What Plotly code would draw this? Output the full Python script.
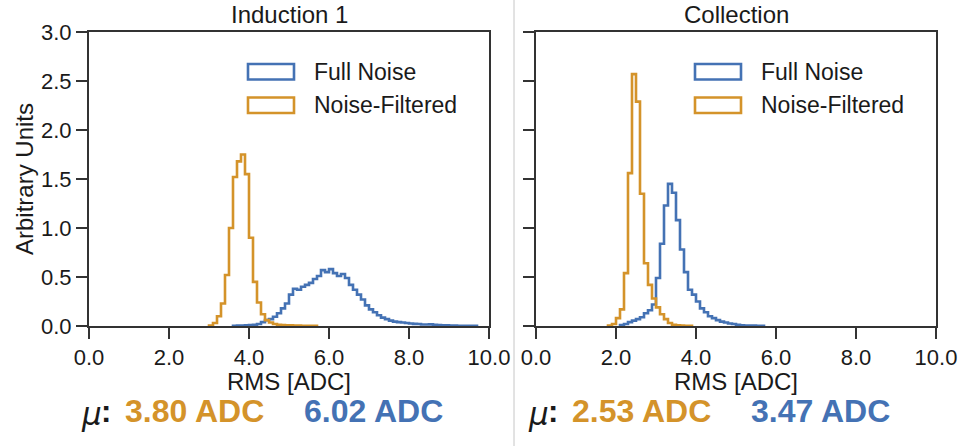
import numpy as np
import plotly.graph_objects as go

# ---- histogram data (density, bin width 0.1 ADC) ----
BIN_WIDTH = 0.1
PANELS = ["Induction 1", "Collection"]
SERIES = ["Full Noise", "Noise-Filtered"]
COLORS = {"Full Noise": "#4472B4", "Noise-Filtered": "#D4932A"}

# Induction 1
ind_full_start = 3.6
ind_full = [0.003, 0.004, 0.005, 0.007, 0.01, 0.013, 0.02, 0.04, 0.06, 0.07,
            0.095, 0.13, 0.18, 0.23, 0.32, 0.38, 0.37, 0.40, 0.42, 0.44,
            0.48, 0.51, 0.57, 0.55, 0.58, 0.54, 0.51, 0.53, 0.49, 0.42,
            0.37, 0.32, 0.27, 0.21, 0.17, 0.14, 0.11, 0.085, 0.07, 0.055,
            0.045, 0.04, 0.035, 0.03, 0.025, 0.022, 0.02, 0.016, 0.015, 0.017,
            0.012, 0.01, 0.008, 0.006, 0.005, 0.004, 0.003, 0.003, 0.002, 0.002,
            0.001]
ind_filt_start = 3.0
ind_filt = [0.005, 0.03, 0.10, 0.23, 0.52, 1.00, 1.52, 1.68, 1.75, 1.55,
            0.90, 0.45, 0.24, 0.12, 0.06, 0.035, 0.02, 0.012, 0.01, 0.008,
            0.006, 0.005, 0.004, 0.003, 0.003, 0.002, 0.002]

# Collection
col_full_start = 2.1
col_full = [0.01, 0.02, 0.04, 0.055, 0.07, 0.09, 0.13, 0.16, 0.22, 0.49,
            0.84, 1.23, 1.45, 1.36, 1.08, 0.78, 0.55, 0.37, 0.32, 0.25,
            0.18, 0.14, 0.10, 0.08, 0.06, 0.045, 0.035, 0.025, 0.02, 0.012,
            0.008, 0.005, 0.005, 0.005, 0.003, 0.002]
col_filt_start = 1.8
col_filt = [0.005, 0.02, 0.08, 0.17, 0.54, 1.56, 2.57, 2.29, 1.35, 0.64,
            0.42, 0.28, 0.19, 0.12, 0.07, 0.03, 0.012, 0.008, 0.005, 0.003,
            0.002]

# mean RMS per panel: [Noise-Filtered, Full Noise]
ind_means = [3.80, 6.02]
col_means = [2.53, 3.47]

x_ticks = [0.0, 2.0, 4.0, 6.0, 8.0, 10.0]
y_ticks = [0.0, 0.5, 1.0, 1.5, 2.0, 2.5, 3.0]

W, H = 959, 446
FONT = "Liberation Sans, Arial, sans-serif"
INK = "#1a1a1a"
SPINE = "#333333"


def px(x):
    return x / W


def py(y):
    return 1 - y / H


def step_trace(start, values, name, xa, ya):
    edges = start + BIN_WIDTH * np.arange(len(values) + 1)
    xs = [edges[0]] + list(edges)
    ys = [0.0] + list(values) + [0.0]
    return go.Scatter(x=xs, y=ys, mode="lines", line_shape="hv",
                      line=dict(color=COLORS[name], width=2.6),
                      name=name, showlegend=False, xaxis=xa, yaxis=ya,
                      hoverinfo="skip")


fig = go.Figure()
fig.add_trace(step_trace(ind_full_start, ind_full, "Full Noise", "x", "y"))
fig.add_trace(step_trace(ind_filt_start, ind_filt, "Noise-Filtered", "x", "y"))
fig.add_trace(step_trace(col_full_start, col_full, "Full Noise", "x2", "y2"))
fig.add_trace(step_trace(col_filt_start, col_filt, "Noise-Filtered", "x2", "y2"))

plot_left = [89, 536]
plot_w = 400
top, bottom = 32, 326

axis_common = dict(showline=True, linewidth=2, linecolor=SPINE, mirror=True,
                   ticks="outside", ticklen=11, tickwidth=2, tickcolor=SPINE,
                   showgrid=False, zeroline=False, automargin=False,
                   tickfont=dict(family=FONT, size=22, color=INK))

ydom = [1 - bottom / H, 1 - top / H]
fig.update_layout(
    template="none",
    width=W, height=H,
    margin=dict(l=0, r=0, t=0, b=0, pad=0),
    paper_bgcolor="white", plot_bgcolor="white",
    showlegend=False,
    xaxis=dict(domain=[px(plot_left[0]), px(plot_left[0] + plot_w)], anchor="y",
               range=[0, 10], tickvals=x_ticks,
               ticktext=[f"{v:.1f}" for v in x_ticks], **axis_common),
    yaxis=dict(domain=ydom, anchor="x", range=[0, 3], tickvals=y_ticks,
               ticktext=[f"{v:.1f}" for v in y_ticks], **axis_common),
    xaxis2=dict(domain=[px(plot_left[1]), px(plot_left[1] + plot_w)], anchor="y2",
                range=[0, 10], tickvals=x_ticks,
                ticktext=[f"{v:.1f}" for v in x_ticks], **axis_common),
    yaxis2=dict(domain=ydom, anchor="x2", range=[0, 3], tickvals=y_ticks,
                showticklabels=False, **axis_common),
)

shapes = []
annotations = []

# light divider between the two panels
shapes.append(dict(type="line", xref="paper", yref="paper",
                   x0=px(514), x1=px(514), y0=0, y1=1,
                   line=dict(color="#c6c6c6", width=1)))

means = [ind_means, col_means]
for i, title in enumerate(PANELS):
    xl = plot_left[i]
    xc = xl + plot_w / 2
    xd = "x domain" if i == 0 else "x2 domain"
    yd = "y domain" if i == 0 else "y2 domain"

    annotations.append(dict(text=title, xref="paper", yref="paper",
                            x=px(xc), y=py(15), xanchor="center", yanchor="middle",
                            showarrow=False, font=dict(family=FONT, size=24, color=INK)))
    annotations.append(dict(text="RMS [ADC]", xref="paper", yref="paper",
                            x=px(xc), y=py(381), xanchor="center", yanchor="middle",
                            showarrow=False, font=dict(family=FONT, size=24, color=INK)))

    # legend: outlined boxes with labels
    for r, name in enumerate(SERIES):
        y_top = 64 + r * 33.5
        y_bot = y_top + 15.5
        shapes.append(dict(type="rect", xref=xd, yref=yd,
                           x0=(248 - 89) / plot_w, x1=(294 - 89) / plot_w,
                           y0=(bottom - y_bot) / (bottom - top),
                           y1=(bottom - y_top) / (bottom - top),
                           line=dict(color=COLORS[name], width=2.6),
                           fillcolor="rgba(0,0,0,0)"))
        annotations.append(dict(text=name, xref=xd, yref=yd,
                                x=(312 - 89) / plot_w,
                                y=(bottom - (y_top + y_bot) / 2) / (bottom - top),
                                xanchor="left", yanchor="middle", showarrow=False,
                                font=dict(family=FONT, size=23, color=INK)))

    # mean summary line under each panel
    mx = xl - 10
    annotations.append(dict(text="μ", xref="paper", yref="paper",
                            x=px(mx), y=py(414), xanchor="left", yanchor="middle",
                            showarrow=False,
                            font=dict(family="DejaVu Sans", size=31, color=INK,
                                      style="italic")))
    annotations.append(dict(text="<b>:</b>", xref="paper", yref="paper",
                            x=px(mx + 20), y=py(411), xanchor="left", yanchor="middle",
                            showarrow=False, font=dict(family=FONT, size=31, color=INK)))
    filt_mean, full_mean = means[i]
    annotations.append(dict(text=f"<b>{filt_mean:.2f} ADC</b>", xref="paper", yref="paper",
                            x=px(xl + 34), y=py(411), xanchor="left", yanchor="middle",
                            showarrow=False,
                            font=dict(family=FONT, size=32, color=COLORS["Noise-Filtered"])))
    annotations.append(dict(text=f"<b>{full_mean:.2f} ADC</b>", xref="paper", yref="paper",
                            x=px(xl + 213), y=py(411), xanchor="left", yanchor="middle",
                            showarrow=False,
                            font=dict(family=FONT, size=32, color=COLORS["Full Noise"])))

annotations.append(dict(text="Arbitrary Units", xref="paper", yref="paper",
                        x=px(25), y=py(179), xanchor="center", yanchor="middle",
                        textangle=-90, showarrow=False,
                        font=dict(family=FONT, size=24, color=INK)))

fig.update_layout(shapes=shapes, annotations=annotations)
fig.write_html("out.html")
